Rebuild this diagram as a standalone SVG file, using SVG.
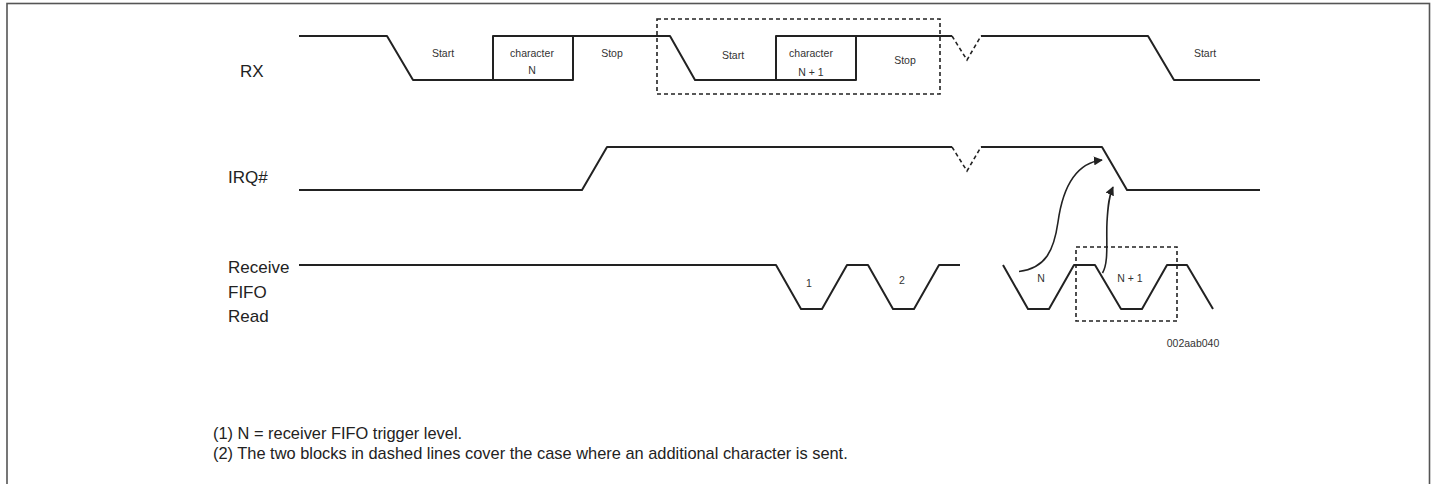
<svg xmlns="http://www.w3.org/2000/svg" width="1435" height="484" viewBox="0 0 1435 484">
<style>
.frame{fill:none;stroke:#555;stroke-width:1.6}
.wave{fill:none;stroke:#222;stroke-width:2;stroke-linejoin:round}
.dash{fill:none;stroke:#222;stroke-width:1.6;stroke-dasharray:4 3}
.arr{fill:none;stroke:#222;stroke-width:1.6}
.lbl{font-family:"Liberation Sans",Arial,sans-serif;font-size:17px;fill:#222}
.sm{font-family:"Liberation Sans",Arial,sans-serif;font-size:10.5px;fill:#333;text-anchor:middle}
.note{font-family:"Liberation Sans",Arial,sans-serif;font-size:16.4px;fill:#222}
</style>
<defs>
<marker id="ah" viewBox="0 0 10 10" refX="9" refY="5" markerWidth="9" markerHeight="9" markerUnits="userSpaceOnUse" orient="auto">
<path d="M0,0 L10,5 L0,10 Z" fill="#222"/>
</marker>
</defs>
<rect class="frame" x="7" y="3.5" width="1422.5" height="520"/>
<g id="rx">
<text class="lbl" x="240" y="77">RX</text>
<path class="wave" d="M299,36 H387 L413,80 H573 V36 M493,80 V36 H670 L695,80 H856 V36 M776,80 V36 H952 M981,36 H1148 L1174,80 H1260"/>
<path class="dash" d="M952,36 L967,60 L981,36"/>
<text class="sm" x="443" y="57">Start</text>
<text class="sm" x="532" y="57">character</text>
<text class="sm" x="532" y="74">N</text>
<text class="sm" x="612" y="57">Stop</text>
<text class="sm" x="733" y="59">Start</text>
<text class="sm" x="811" y="57">character</text>
<text class="sm" x="811" y="75.5">N + 1</text>
<text class="sm" x="905" y="64">Stop</text>
<text class="sm" x="1205" y="57">Start</text>
</g>
<g id="irq">
<text class="lbl" x="228" y="183">IRQ#</text>
<path class="wave" d="M299,190 H582 L607,147 H952 M981,147 H1102 L1127,190 H1260"/>
<path class="dash" d="M952,147 L967,171 L981,147"/>
</g>
<g id="fifo">
<text class="lbl" x="228" y="273">Receive</text>
<text class="lbl" x="228" y="297.5">FIFO</text>
<text class="lbl" x="228" y="322">Read</text>
<path class="wave" d="M299,265 H776 L801,309 H822 L847,265 H868 L893,309 H914 L939,265 H960 M1003,265 L1028,309 H1049 L1074,265 H1095 L1121,309 H1142 L1167,265 H1187 L1213,309"/>
<text class="sm" x="809" y="287">1</text>
<text class="sm" x="902" y="284">2</text>
<text class="sm" x="1041" y="282">N</text>
<text class="sm" x="1130" y="282">N + 1</text>
</g>
<g id="dashed-blocks">
<rect class="dash" x="657" y="19" width="283" height="75"/>
<rect class="dash" x="1076" y="247" width="101" height="74"/>
</g>
<g id="connectors">
<path class="arr" marker-end="url(#ah)" d="M1019,271.5 C1046,268 1054,250 1058,222 C1063,186 1076,163 1102,160"/>
<path class="arr" marker-end="url(#ah)" d="M1102.5,273 C1109,262 1106,240 1107,222 C1108,205 1109,196 1113,187"/>
</g>
<g id="notes">
<text class="sm" x="1193" y="347">002aab040</text>
<text class="note" x="213" y="439">(1) N = receiver FIFO trigger level.</text>
<text class="note" x="213" y="459">(2) The two blocks in dashed lines cover the case where an additional character is sent.</text>
</g>
</svg>
